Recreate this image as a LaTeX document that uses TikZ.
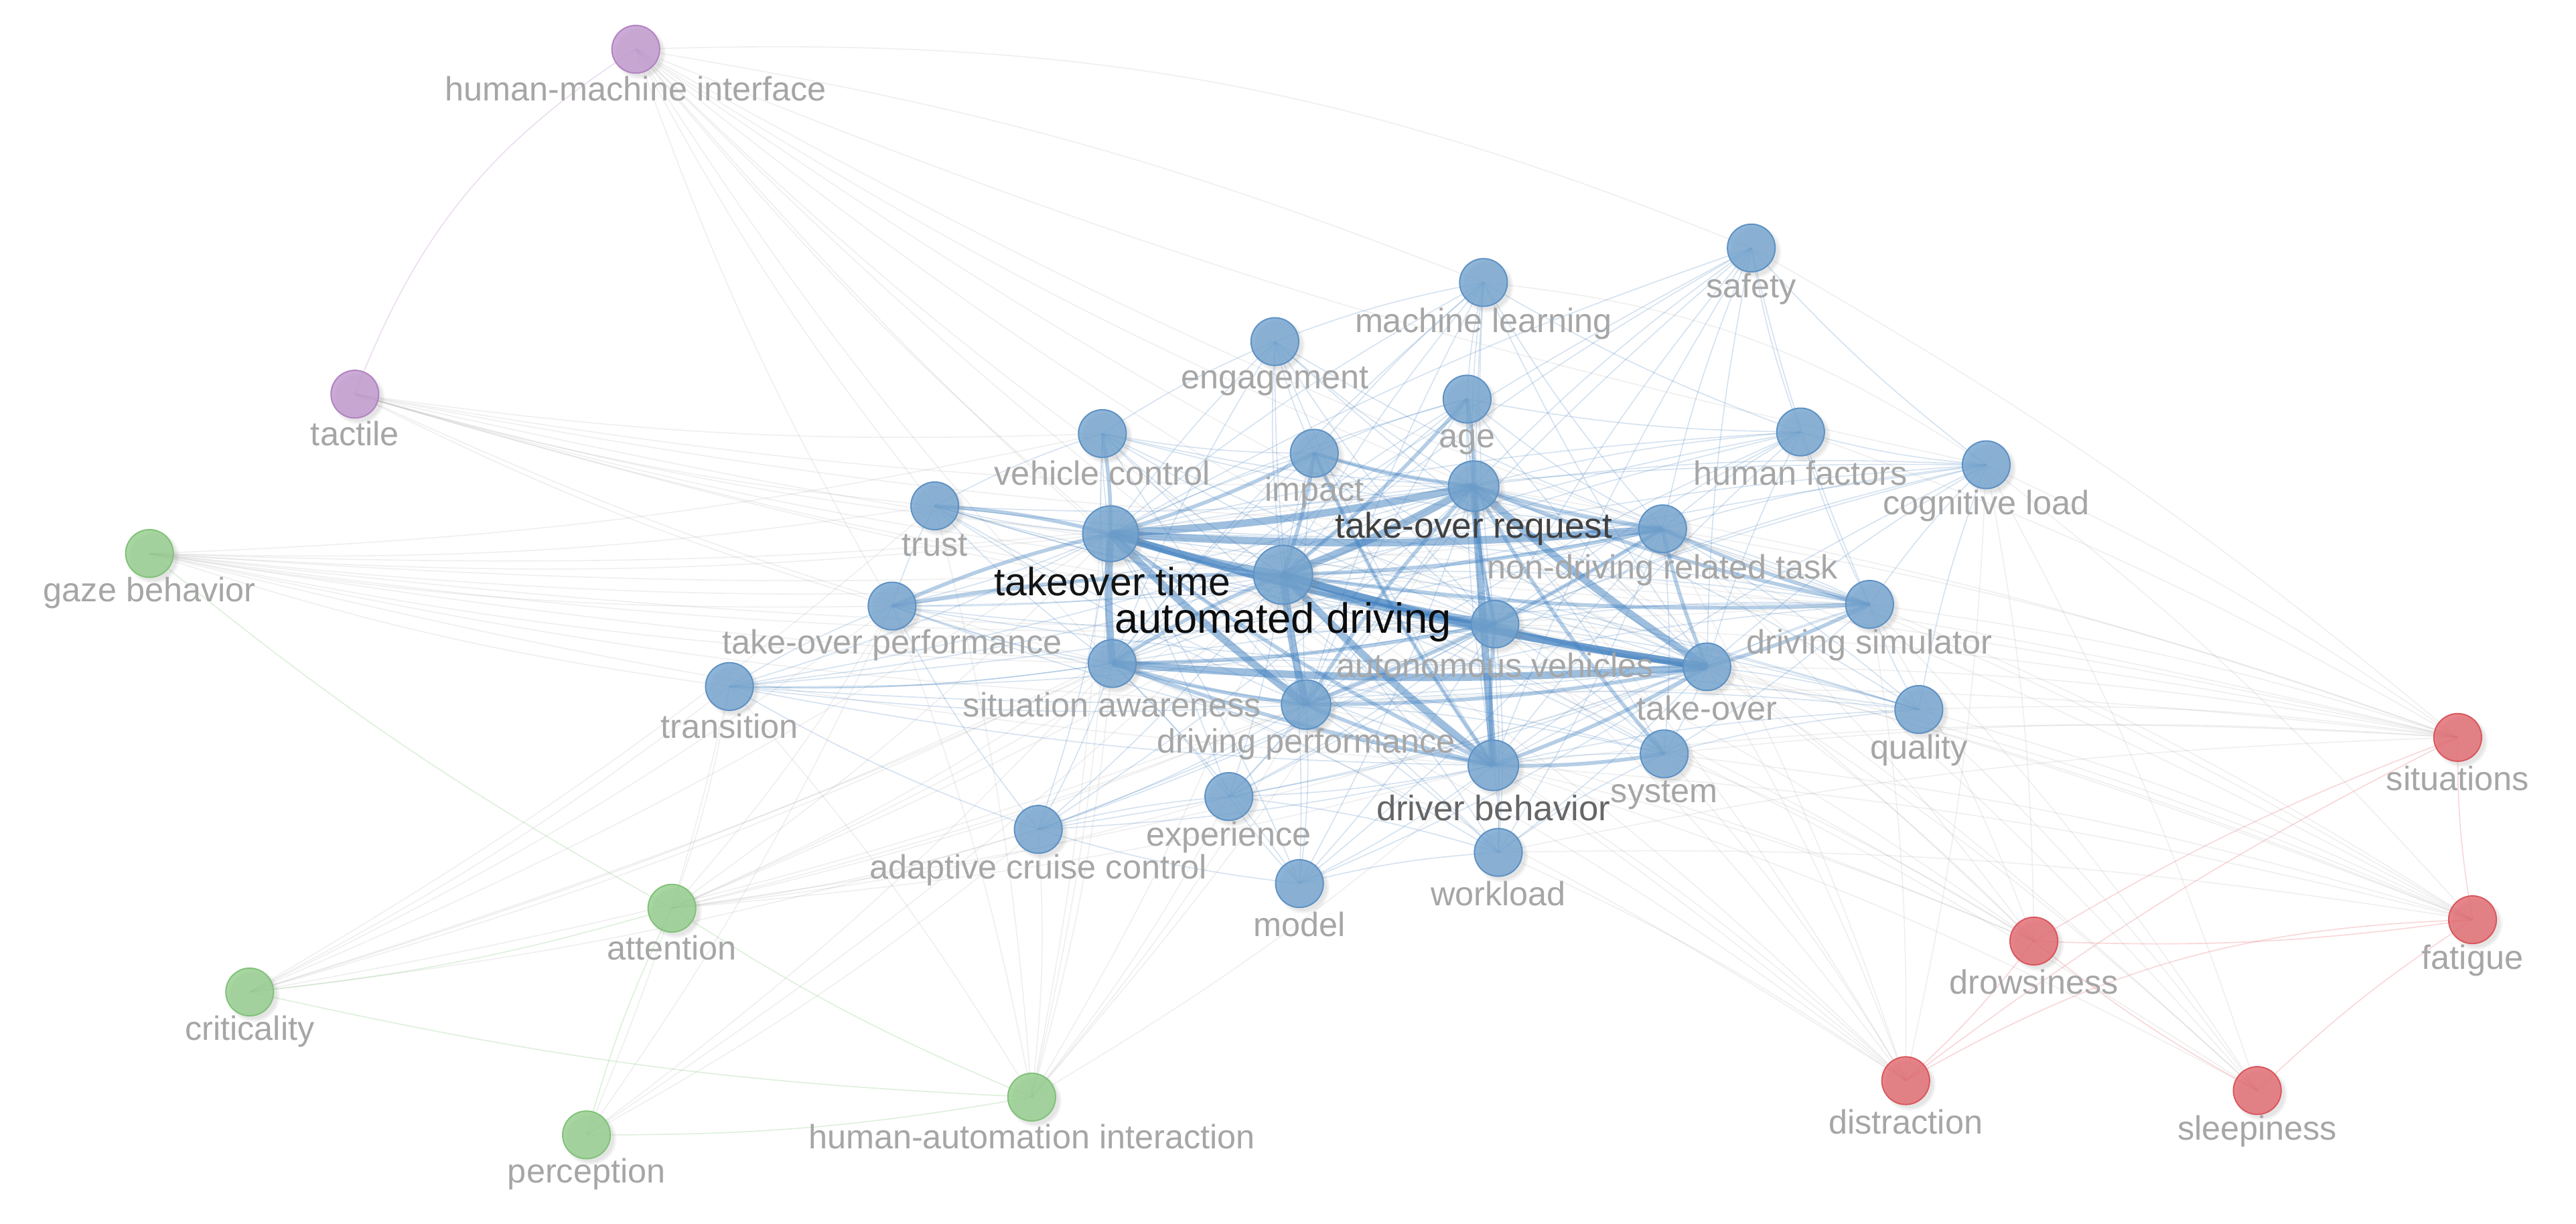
\documentclass[tikz,border=0pt]{standalone}
\usepackage{fontspec}
\setmainfont{Liberation Sans}
\usetikzlibrary{shadows}
\definecolor{bfill}{HTML}{72A3CF}
\definecolor{bline}{HTML}{5F92C4}
\definecolor{gfill}{HTML}{93CD8B}
\definecolor{gline}{HTML}{82C27A}
\definecolor{rfill}{HTML}{E2686E}
\definecolor{rline}{HTML}{D9585E}
\definecolor{pfill}{HTML}{C097CE}
\definecolor{pline}{HTML}{B284C2}
\definecolor{edgeb}{HTML}{3F7FBF}
\definecolor{edgeg}{HTML}{9A9A9A}
\definecolor{edger}{HTML}{F08C90}
\definecolor{edgegr}{HTML}{8FD088}
\definecolor{edgep}{HTML}{C8A0D4}
\definecolor{lblgray}{HTML}{A6A6A6}
\tikzset{
 circ/.style={circle, inner sep=0pt, minimum size=17.8pt, line width=0.5pt, fill opacity=0.8,
   circular drop shadow={opacity=0.2, shadow scale=1.12, shadow xshift=1.2pt, shadow yshift=-1.2pt}},
 bnode/.style={circ, fill=bfill, draw=bline},
 gnode/.style={circ, fill=gfill, draw=gline},
 rnode/.style={circ, fill=rfill, draw=rline},
 pnode/.style={circ, fill=pfill, draw=pline},
 lbl/.style={text=lblgray, font=\fontsize{12.6}{14}\selectfont, inner sep=0pt, yshift=-1.2pt},
 strong/.style={draw=edgeb, line width=2.8pt, draw opacity=0.5},
 medium/.style={draw=edgeb, line width=1.4pt, draw opacity=0.38},
 thinb/.style={draw=edgeb, line width=0.4pt, draw opacity=0.22},
 thing/.style={draw=edgeg, line width=0.4pt, draw opacity=0.15},
 thinr/.style={draw=edger, line width=0.4pt, draw opacity=0.35},
 thingr/.style={draw=edgegr, line width=0.4pt, draw opacity=0.3},
 thinp/.style={draw=edgep, line width=0.4pt, draw opacity=0.35},
}
\begin{document}
\begin{tikzpicture}[x=0.6133pt,y=-0.6133pt]
\fill[white] (0,0) rectangle (1568,745);
\useasboundingbox (0,0) rectangle (1568,745);
% coordinates of node centres
\coordinate (hmi) at (387,30);
\coordinate (tac) at (216,240);
\coordinate (gaze) at (91,337);
\coordinate (att) at (409,553);
\coordinate (crit) at (152,604);
\coordinate (perc) at (357,691);
\coordinate (hai) at (628,668);
\coordinate (ml) at (903,172);
\coordinate (saf) at (1066,151);
\coordinate (eng) at (776,208);
\coordinate (age) at (893,243);
\coordinate (vc) at (671,264);
\coordinate (imp) at (800,276);
\coordinate (hf) at (1096,263);
\coordinate (cl) at (1209,283);
\coordinate (tru) at (569,308);
\coordinate (tor) at (897,296);
\coordinate (tt) at (676,325);
\coordinate (ndrt) at (1012,322);
\coordinate (ad) at (781,350);
\coordinate (top) at (543,369);
\coordinate (ds) at (1138,368);
\coordinate (av) at (910,380);
\coordinate (tra) at (444,418);
\coordinate (sa) at (677,404);
\coordinate (to) at (1039,406);
\coordinate (dp) at (795,429);
\coordinate (qual) at (1168,432);
\coordinate (sys) at (1013,459);
\coordinate (db) at (909,466);
\coordinate (exp) at (748,485);
\coordinate (acc) at (632,505);
\coordinate (wl) at (912,519);
\coordinate (mod) at (791,538);
\coordinate (sit) at (1496,449);
\coordinate (fat) at (1505,560);
\coordinate (drow) at (1238,573);
\coordinate (dis) at (1160,658);
\coordinate (sleep) at (1374,664);

% faint gray edges from other clusters to the blue cluster
\foreach \s/\l in {
 hmi/{tt,ad,tor,sa,top,dp,db,to,av,ds,cl,tru},
 tac/{tt,ad,tor,tru,top,sa,to,ndrt,ds,av,vc},
 gaze/{tt,ad,tor,tru,top,tra,sa,to,dp,db,ds,av,ndrt,vc},
 att/{tt,ad,sa,top,tra,dp,db,to,acc,exp,tor,av},
 crit/{tt,ad,tru,top,tra,sa,acc,tor,dp},
 perc/{tra,top,sa,ad,acc},
 hai/{tt,ad,tor,sa,top,tra,dp,db,acc,exp,vc,tru},
 sit/{ds,to,av,ndrt,cl,tor,ad,tt,db,sys,qual,dp,hf,wl,saf},
 fat/{ds,to,av,ndrt,cl,tor,ad,db,qual,sys,wl},
 drow/{ds,to,ad,db,dp,ndrt,cl,tor,sys,av},
 dis/{ds,to,ad,db,tt,ndrt,cl,sa,dp,tor,sys,wl,av},
 sleep/{ds,to,ad,db,cl,qual,tor,ndrt}}{
 \foreach \t in \l {\draw[thing] (\s) to[bend right=5] (\t);}
}
\draw[thing] (hmi) to[bend left=12] (saf);
\draw[thing] (hmi) to[bend left=6] (ml);
\draw[thing] (ml) to[bend left=14] (cl);
% cluster edges
\draw[thinp] (hmi) to[bend right=18] (tac);
\foreach \a/\b in {gaze/att,crit/hai,perc/hai,att/perc,att/hai,crit/att}
 {\draw[thingr] (\a) to[bend right=5] (\b);}
\foreach \a/\b in {sit/fat,sit/dis,drow/fat,fat/sleep,dis/drow,sit/drow,drow/sleep}
 {\draw[thinr] (\a) to[bend right=5] (\b);}
\draw[thinr] (dis) to[bend left=14] (fat);
% thin blue edges
\foreach \p in {ml,saf,eng,age,vc,imp,hf,cl,tru,top,tra,qual,sys,exp,acc,wl,mod,ds}{
 \foreach \c in {ad,tt,tor,to,db,dp,av,sa,ndrt}{\draw[thinb] (\p) to[bend right=5] (\c);}
}
\foreach \a/\b in {ml/age,ml/eng,ml/hf,saf/hf,saf/cl,saf/ds,eng/vc,age/imp,hf/cl,cl/ds,ds/qual,qual/sys,sys/wl,wl/mod,exp/acc,exp/mod,acc/mod,tru/top,top/tra,tra/acc,vc/tru,hf/ds,cl/qual,eng/imp,vc/imp,ml/imp,age/hf,wl/exp,sys/ds,tra/sa,top/acc}
 {\draw[thinb] (\a) to[bend right=5] (\b);}
% medium edges
\foreach \a/\b in {dp/to,db/to,tor/ndrt,ad/sa,ad/ndrt,tor/dp,tor/av,av/to,tt/av,ad/imp,imp/db,tt/db,ad/ds,tor/ds,to/ds,ad/top,tt/tru,tt/vc,dp/db,av/db,sa/dp,sa/av,ad/age,ndrt/to,ndrt/ds,db/sys,dp/ndrt,tor/sys,imp/tor,tt/imp,tor/age,sa/db,tt/top}
 {\draw[medium] (\a) to[bend right=5] (\b);}
% strong edges
\foreach \a/\b in {tt/ad,tt/tor,tt/to,ad/tor,ad/to,ad/db,ad/dp,tt/sa,sa/to,ad/av,tt/ndrt,tor/to,tt/dp}
 {\draw[strong] (\a) to[bend right=4] (\b);}
\draw[strong] (tor) -- (db);

% circles
\foreach \n in {ml,saf,eng,age,vc,imp,hf,cl,tru,ndrt,top,ds,tra,sa,qual,sys,exp,acc,wl,mod}
 {\node[bnode] (\n-c) at (\n) {};}
\node[bnode, minimum size=17.7pt] (av-c) at (av) {};
\node[bnode, minimum size=17.7pt] (to-c) at (to) {};
\node[bnode, minimum size=18.8pt] (tor-c) at (tor) {};
\node[bnode, minimum size=18.8pt] (db-c) at (db) {};
\node[bnode, minimum size=18.4pt] (dp-c) at (dp) {};
\node[bnode, minimum size=20.8pt] (tt-c) at (tt) {};
\node[bnode, minimum size=22pt] (ad-c) at (ad) {};
\foreach \n in {gaze,att,crit,perc,hai}{\node[gnode] (\n-c) at (\n) {};}
\foreach \n in {sit,fat,drow,dis,sleep}{\node[rnode] (\n-c) at (\n) {};}
\foreach \n in {hmi,tac}{\node[pnode] (\n-c) at (\n) {};}

% labels
\node[lbl] (hmi-l) at (387,52) {human-machine interface};
\node[lbl] (tac-l) at (216,262) {tactile};
\node[lbl] (gaze-l) at (91,359) {gaze behavior};
\node[lbl] (att-l) at (409,575) {attention};
\node[lbl] (crit-l) at (152,626) {criticality};
\node[lbl] (perc-l) at (357,713) {perception};
\node[lbl] (hai-l) at (628,690) {human-automation interaction};
\node[lbl] (ml-l) at (903,195) {machine learning};
\node[lbl] (saf-l) at (1066,174) {safety};
\node[lbl] (eng-l) at (776,230) {engagement};
\node[lbl] (age-l) at (893,267) {age};
\node[lbl] (vc-l) at (671,286) {vehicle control};
\node[lbl] (imp-l) at (800,298) {impact};
\node[lbl] (hf-l) at (1096,286) {human factors};
\node[lbl] (cl-l) at (1209,306) {cognitive load};
\node[lbl] (tru-l) at (569,330) {trust};
\node[lbl] (ndrt-l) at (1012,345) {non-driving related task};
\node[lbl] (top-l) at (543,391) {take-over performance};
\node[lbl] (ds-l) at (1138,391) {driving simulator};
\node[lbl] (av-l) at (910,403) {autonomous vehicles};
\node[lbl] (tra-l) at (444,440) {transition};
\node[lbl] (sa-l) at (677,427) {situation awareness};
\node[lbl] (to-l) at (1039,429) {take-over};
\node[lbl] (dp-l) at (795,451) {driving performance};
\node[lbl] (qual-l) at (1168,455) {quality};
\node[lbl] (sys-l) at (1013,482) {system};
\node[lbl] (exp-l) at (748,508) {experience};
\node[lbl] (acc-l) at (632,528) {adaptive cruise control};
\node[lbl] (wl-l) at (912,542) {workload};
\node[lbl] (mod-l) at (791,561) {model};
\node[lbl] (sit-l) at (1496,472) {situations};
\node[lbl] (fat-l) at (1505,583) {fatigue};
\node[lbl] (drow-l) at (1238,596) {drowsiness};
\node[lbl] (dis-l) at (1160,681) {distraction};
\node[lbl] (sleep-l) at (1374,687) {sleepiness};
\node[lbl, text=black!75, font=\fontsize{13.3}{15}\selectfont] (tor-l) at (897,320) {take-over request};
\node[lbl, text=black!60, font=\fontsize{13.2}{15}\selectfont] (db-l) at (909,490) {driver behavior};
\node[lbl, text=black!92, font=\fontsize{14.7}{16}\selectfont] (tt-l) at (677,352) {takeover time};
\node[lbl, text=black!95, font=\fontsize{15.8}{17}\selectfont] (ad-l) at (781,377) {automated driving};
\end{tikzpicture}
\end{document}
